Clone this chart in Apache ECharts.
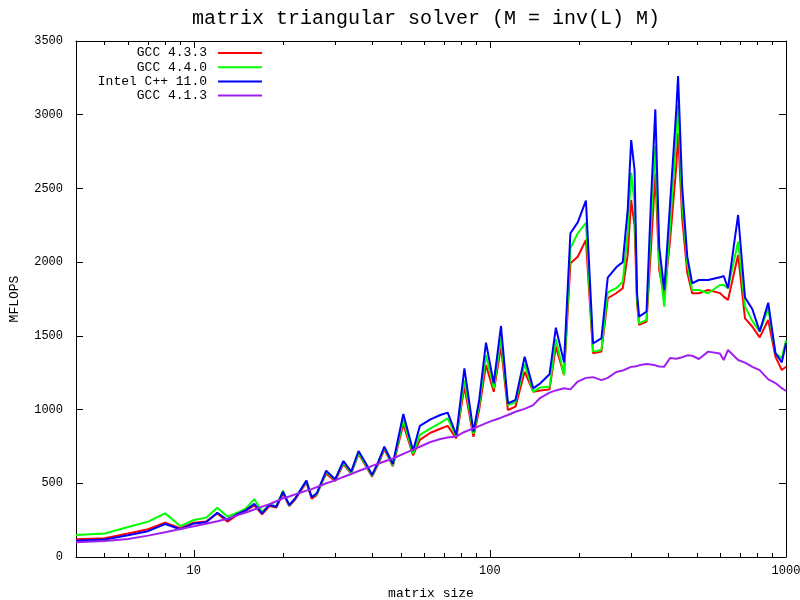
<!DOCTYPE html>
<html>
<head>
<meta charset="utf-8">
<script src="https://cdn.jsdelivr.net/npm/echarts@6/dist/echarts.min.js"></script>
<style>html,body{margin:0;padding:0;background:#fff}#c{width:800px;height:600px}</style>
</head>
<body>
<div id="c"></div>
<script>
const sizes = [4,5,6,7,8,9,10,11,12,13,14,15,16,17,18,19,20,21,22,23,24,25,26,27,28,30,32,34,36,38,40,42,44,47,51,55,58,63,68,72,77,82,88,92,97,103,109,115,122,131,140,148,159,167,178,187,198,211,223,238,250,267,281,292,300,308,314,319,338,350,362,373,388,406,426,432,446,464,482,508,546,598,616,637,689,727,770,815,871,921,968,1000];
const gcc433 = [120,128,160,188,233,195,233,240,296,240,285,315,350,290,345,335,430,345,390,450,505,395,420,500,565,515,630,565,700,620,545,630,730,615,900,690,794,843,870,889,805,1155,816,1000,1302,1121,1427,997,1020,1257,1121,1130,1137,1427,1234,1992,2037,2150,1382,1393,1755,1789,1823,2050,2421,2250,1720,1574,1596,2100,2600,1950,1770,2150,2650,2874,2300,1930,1789,1789,1811,1790,1766,1743,2048,1619,1562,1490,1608,1359,1268,1290];
const gcc440 = [149,160,203,240,296,210,251,267,334,273,300,330,393,305,355,345,450,350,398,460,515,410,425,505,575,525,640,570,705,630,550,640,740,620,930,700,828,873,910,941,815,1200,835,1030,1370,1144,1483,1031,1050,1310,1121,1150,1155,1478,1234,2094,2196,2266,1393,1404,1795,1823,1868,2200,2608,2400,1750,1585,1608,2250,2790,2000,1698,2250,2850,3066,2400,1990,1811,1811,1789,1845,1845,1823,2139,1700,1600,1528,1687,1382,1348,1470];
const intel11 = [111,118,148,175,224,188,228,235,300,251,290,318,360,296,353,341,443,353,398,460,518,405,432,510,585,527,651,579,719,640,556,647,748,631,970,721,889,934,963,979,828,1280,850,1065,1454,1178,1567,1042,1065,1359,1144,1178,1240,1555,1320,2196,2270,2417,1449,1483,1895,1965,2000,2354,2828,2625,1789,1630,1664,2421,3036,2105,1811,2399,3032,3263,2512,2037,1857,1879,1879,1897,1906,1823,2320,1760,1680,1530,1725,1382,1320,1450];
const gcc413 = [100,108,122,145,168,190,208,225,242,260,282,302,322,342,358,378,398,410,425,438,450,460,474,487,500,520,543,563,583,600,618,633,648,668,700,728,748,780,800,810,818,848,872,888,908,928,945,963,985,1005,1030,1080,1115,1130,1144,1137,1190,1215,1220,1200,1215,1255,1265,1280,1290,1292,1296,1300,1309,1305,1300,1292,1291,1350,1345,1343,1355,1368,1365,1343,1393,1380,1336,1404,1336,1318,1290,1268,1205,1180,1145,1126];
const seriesNames = ['GCC 4.3.3','GCC 4.4.0','Intel C++ 11.0','GCC 4.1.3'];
const seriesColors = ['#ff0000','#00ff00','#0000ff','#a020f0'];
const xMajor = [10,100,1000];
const xMinor = [5,6,7,8,9,20,30,40,50,60,70,80,90,200,300,400,500,600,700,800,900];

const FONT = 'Liberation Mono';
const chart = echarts.init(document.getElementById('c'), null, {renderer:'canvas'});
const allData = [gcc433, gcc440, intel11, gcc413];
const fmt = v => String(Math.round(v));
function xAx(pos, major, showLine, showLabel) {
  return {
    type:'log', logBase:10, min:4, max:1000, position:pos,
    axisLine:{show:showLine, lineStyle:{color:'#000', width:1}},
    axisTick:{show:true, inside:true, length: major ? 7 : 4, customValues: major ? xMajor : xMinor, lineStyle:{color:'#000'}},
    axisLabel:{show:showLabel, customValues: xMajor, formatter: fmt, fontFamily:FONT, fontSize:12, color:'#000', margin:8},
    splitLine:{show:false}, minorTick:{show:false}
  };
}
const option = {
  animation:false,
  backgroundColor:'#fff',
  title:{text:'matrix triangular solver (M = inv(L) M)', left:187, top:4,
    textStyle:{fontFamily:FONT, fontSize:20, fontWeight:'normal', color:'#000'}},
  legend:{
    orient:'vertical', align:'right', left:87, top:46, padding:0,
    itemWidth:44, itemHeight:14, itemGap:0.2,
    itemStyle:{opacity:0},
    textStyle:{fontFamily:FONT, fontSize:13, color:'#000', width:120, align:'right', padding:[0,6,0,0], lineHeight:14},
    data: seriesNames
  },
  grid:{left:76, right:14, top:41, bottom:43, containLabel:false, outerBoundsMode:'none'},
  xAxis:[
    Object.assign(xAx('bottom', true, true, true), {name:'matrix size', nameLocation:'middle', nameGap:30,
      nameTextStyle:{fontFamily:FONT, fontSize:13, color:'#000'}}),
    xAx('bottom', false, false, false),
    xAx('top', true, true, false),
    xAx('top', false, false, false)
  ],
  yAxis:[
    {type:'value', min:0, max:3500, interval:500, position:'left',
     name:'MFLOPS', nameLocation:'middle', nameGap:55, nameRotate:90,
     nameTextStyle:{fontFamily:FONT, fontSize:13, color:'#000'},
     axisLine:{show:true, lineStyle:{color:'#000'}},
     axisTick:{show:true, inside:true, length:7, lineStyle:{color:'#000'}},
     axisLabel:{formatter:fmt, fontFamily:FONT, fontSize:12, color:'#000', margin:13},
     splitLine:{show:false}},
    {type:'value', min:0, max:3500, interval:500, position:'right',
     axisLine:{show:true, lineStyle:{color:'#000'}},
     axisTick:{show:true, inside:true, length:7, lineStyle:{color:'#000'}},
     axisLabel:{show:false}, splitLine:{show:false}}
  ],
  series: seriesNames.map((name, i) => ({
    name, type:'line', xAxisIndex:0, yAxisIndex:0,
    data: sizes.map((s, k) => [s, allData[i][k]]),
    symbol:'none', showSymbol:false, clip:true,
    lineStyle:{color:seriesColors[i], width:2},
    itemStyle:{color:seriesColors[i]}
  }))
};
chart.setOption(option);
</script>
</body>
</html>
